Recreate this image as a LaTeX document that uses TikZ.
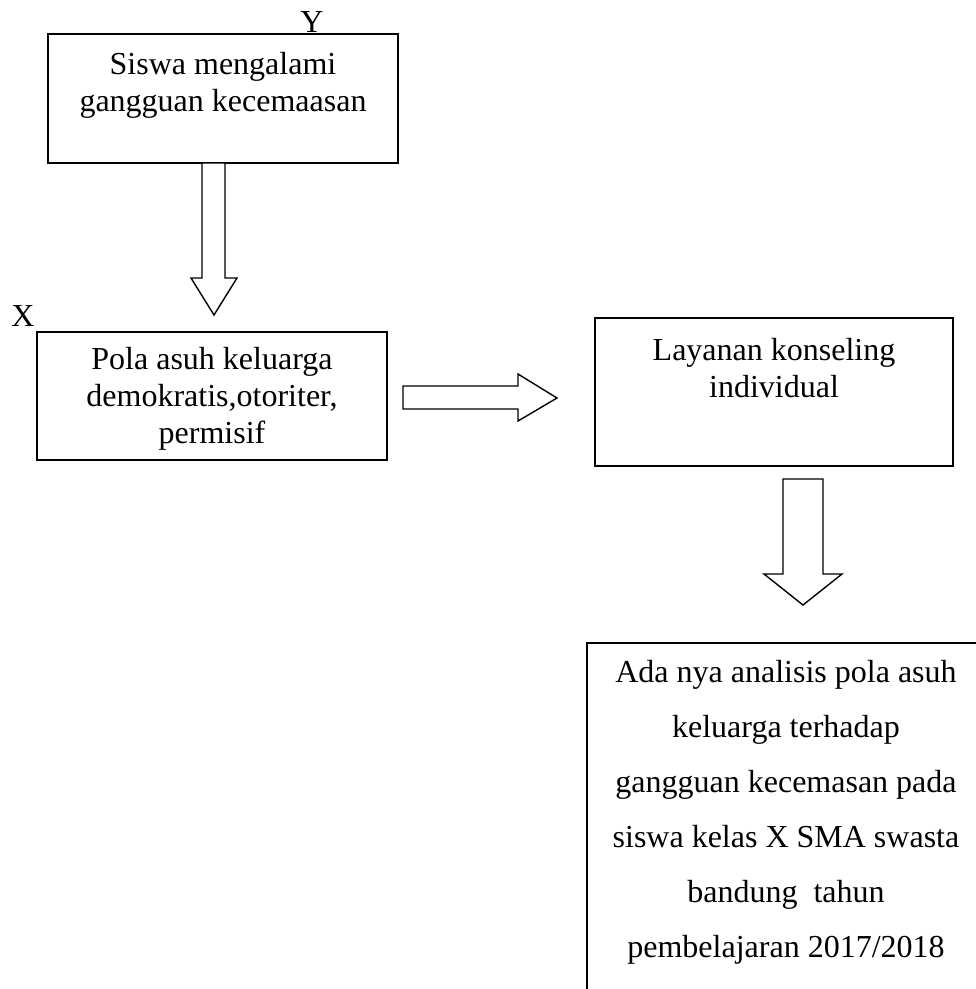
\documentclass[tikz,border=0pt]{standalone}
\usepackage{fontspec}
\setmainfont{Liberation Serif}
\usetikzlibrary{positioning, calc}

\tikzset{
  box/.style={draw, line width=1.7pt, inner sep=0pt, outer sep=0pt},
  boxtext/.style={align=center, inner sep=0pt, font=\fontsize{32}{37}\selectfont},
  widetext/.style={align=center, inner sep=0pt, font=\fontsize{32}{55}\selectfont},
  varlabel/.style={inner sep=0pt, font=\fontsize{32}{37}\selectfont},
  blockarrow/.style={draw, line width=1.4pt, fill=white, line join=miter}
}

\begin{document}
\begin{tikzpicture}[x=1pt, y=-1pt]
  \useasboundingbox (0,0) rectangle (976,989);
  \clip (0,0) rectangle (976,989);

  % kotak-kotak
  \node[box, minimum width=350pt, minimum height=129pt] (siswa) at (223,98.5) {};
  \node[box, minimum width=350pt, minimum height=128pt] (polaasuh) at (212,396) {};
  \node[box, minimum width=358pt, minimum height=148pt] (layanan) at (774,392) {};
  \node[box, minimum width=398pt, minimum height=380pt] (hasil) at (786,833) {};

  % teks di dalam kotak (base = baris terakhir)
  \node[boxtext, anchor=base] (siswaT) at ([yshift=-77pt]siswa.north) {Siswa mengalami\\gangguan kecemaasan};
  \node[boxtext, anchor=base] (polaasuhT) at ([yshift=-111pt]polaasuh.north) {Pola asuh keluarga\\demokratis,otoriter,\\permisif};
  \node[boxtext, anchor=base] (layananT) at ([yshift=-79pt]layanan.north) {Layanan konseling\\individual};
  \node[widetext, anchor=base] (hasilT) at ([yshift=-314pt]hasil.north) {Ada nya analisis pola asuh\\keluarga terhadap\\gangguan kecemasan pada\\siswa kelas X SMA swasta\\bandung\ \ tahun\\pembelajaran 2017/2018};

  % variabel
  \node[varlabel, anchor=base] (varY) at (312,32) {Y};
  \node[varlabel, anchor=base] (varX) at (23,326) {X};

  % panah blok
  \coordinate (a1tail) at ([xshift=-9.5pt]siswa.south);
  \coordinate (a1tip) at ([xshift=2pt, yshift=17pt]polaasuh.north);
  \draw[blockarrow] ($(a1tail)+(-11.5,0)$) -- ++(0,115) -- ++(-11,0) -- (a1tip)
    -- ++(23,-37) -- ++(-12,0) -- ++(0,-115) -- cycle;

  \coordinate (a2tail) at ([xshift=16pt, yshift=-1.5pt]polaasuh.east);
  \coordinate (a2tip) at ([xshift=-38pt, yshift=-6pt]layanan.west);
  \draw[blockarrow] ($(a2tail)+(0,-11.5)$) -- ++(115,0) -- ++(0,-12) -- (a2tip)
    -- ++(-39,23) -- ++(0,-12) -- ++(-115,0) -- cycle;

  \coordinate (a3tail) at ([xshift=29pt, yshift=-13pt]layanan.south);
  \coordinate (a3tip) at ([xshift=17pt, yshift=38pt]hasil.north);
  \draw[blockarrow] ($(a3tail)+(-20,0)$) -- ++(0,95) -- ++(-19,0) -- (a3tip)
    -- ++(39,-31) -- ++(-19,0) -- ++(0,-95) -- cycle;
\end{tikzpicture}
\end{document}
